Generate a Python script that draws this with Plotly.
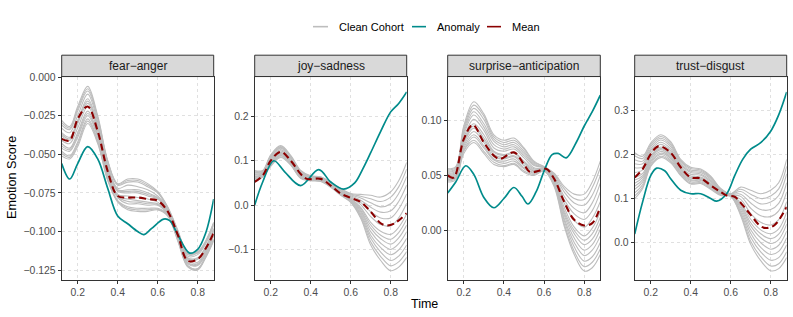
import plotly.graph_objects as go

# ---------------- data ----------------
panel_names = ["fear\u2212anger", "joy\u2212sadness", "surprise\u2212anticipation", "trust\u2212disgust"]

x_knots = [0.12, 0.16, 0.20, 0.25, 0.30, 0.35, 0.40, 0.45, 0.50, 0.55, 0.60, 0.65, 0.70, 0.75, 0.80, 0.84, 0.88]

cohort_fear_anger = [
    [-0.028, -0.032, -0.019, -0.006, -0.025, -0.054, -0.069, -0.066, -0.066, -0.069, -0.074, -0.084, -0.099, -0.114, -0.113, -0.106, -0.094],
    [-0.0295, -0.033, -0.0205, -0.0075, -0.026, -0.0545, -0.0695, -0.067, -0.067, -0.070, -0.0745, -0.0845, -0.0995, -0.1145, -0.1135, -0.1065, -0.0945],
    [-0.031, -0.034, -0.022, -0.009, -0.027, -0.055, -0.070, -0.068, -0.068, -0.071, -0.075, -0.085, -0.100, -0.115, -0.114, -0.107, -0.095],
    [-0.033, -0.036, -0.025, -0.011, -0.029, -0.057, -0.072, -0.070, -0.071, -0.073, -0.077, -0.085, -0.101, -0.116, -0.115, -0.108, -0.096],
    [-0.036, -0.039, -0.028, -0.014, -0.031, -0.058, -0.073, -0.073, -0.073, -0.075, -0.078, -0.086, -0.101, -0.117, -0.117, -0.110, -0.098],
    [-0.037, -0.040, -0.029, -0.0155, -0.032, -0.059, -0.0735, -0.074, -0.074, -0.076, -0.0785, -0.0865, -0.1015, -0.1175, -0.1175, -0.1105, -0.0985],
    [-0.038, -0.041, -0.030, -0.017, -0.033, -0.060, -0.074, -0.075, -0.075, -0.077, -0.079, -0.087, -0.102, -0.118, -0.118, -0.111, -0.099],
    [-0.041, -0.043, -0.033, -0.019, -0.035, -0.061, -0.076, -0.077, -0.078, -0.079, -0.081, -0.087, -0.103, -0.119, -0.120, -0.112, -0.100],
    [-0.043, -0.046, -0.036, -0.022, -0.037, -0.063, -0.077, -0.079, -0.080, -0.081, -0.082, -0.088, -0.104, -0.120, -0.121, -0.113, -0.102],
    [-0.0445, -0.047, -0.0375, -0.0235, -0.038, -0.0635, -0.0775, -0.0805, -0.081, -0.082, -0.0825, -0.0885, -0.104, -0.1205, -0.1215, -0.114, -0.1025],
    [-0.046, -0.048, -0.039, -0.025, -0.039, -0.064, -0.078, -0.082, -0.082, -0.083, -0.083, -0.089, -0.104, -0.121, -0.122, -0.115, -0.103],
    [-0.048, -0.051, -0.042, -0.027, -0.041, -0.066, -0.080, -0.084, -0.085, -0.085, -0.085, -0.089, -0.105, -0.122, -0.124, -0.116, -0.105],
    [-0.0495, -0.052, -0.0435, -0.0285, -0.042, -0.0665, -0.0805, -0.085, -0.086, -0.086, -0.0855, -0.0895, -0.1055, -0.1225, -0.1245, -0.1165, -0.1055],
    [-0.051, -0.053, -0.045, -0.030, -0.043, -0.067, -0.081, -0.086, -0.087, -0.087, -0.086, -0.090, -0.106, -0.123, -0.125, -0.117, -0.106],
]
cohort_joy_sadness = [
    [0.078, 0.078, 0.113, 0.134, 0.112, 0.078, 0.066, 0.064, 0.052, 0.037, 0.026, 0.024, 0.022, 0.018, 0.030, 0.055, 0.096],
    [0.076, 0.077, 0.111, 0.132, 0.110, 0.077, 0.065, 0.063, 0.051, 0.036, 0.025, 0.020, 0.014, 0.008, 0.018, 0.041, 0.081],
    [0.074, 0.076, 0.109, 0.130, 0.109, 0.075, 0.064, 0.062, 0.050, 0.035, 0.023, 0.016, 0.005, -0.004, 0.003, 0.026, 0.064],
    [0.072, 0.074, 0.107, 0.128, 0.107, 0.074, 0.063, 0.061, 0.049, 0.033, 0.021, 0.011, -0.005, -0.016, -0.013, 0.008, 0.045],
    [0.069, 0.073, 0.104, 0.125, 0.105, 0.072, 0.062, 0.060, 0.048, 0.032, 0.019, 0.006, -0.015, -0.029, -0.029, -0.009, 0.025],
    [0.067, 0.072, 0.102, 0.122, 0.103, 0.070, 0.061, 0.059, 0.047, 0.031, 0.017, 0.001, -0.026, -0.044, -0.047, -0.029, 0.004],
    [0.064, 0.070, 0.099, 0.119, 0.100, 0.068, 0.060, 0.058, 0.046, 0.029, 0.015, -0.005, -0.039, -0.059, -0.066, -0.050, -0.020],
    [0.062, 0.069, 0.097, 0.118, 0.099, 0.067, 0.059, 0.057, 0.045, 0.028, 0.014, -0.008, -0.045, -0.068, -0.077, -0.062, -0.032],
    [0.061, 0.068, 0.096, 0.116, 0.098, 0.066, 0.059, 0.057, 0.044, 0.027, 0.013, -0.012, -0.052, -0.076, -0.088, -0.074, -0.045],
    [0.059, 0.067, 0.094, 0.114, 0.096, 0.065, 0.058, 0.056, 0.043, 0.026, 0.011, -0.015, -0.060, -0.086, -0.100, -0.087, -0.060],
    [0.057, 0.066, 0.092, 0.112, 0.094, 0.064, 0.057, 0.055, 0.042, 0.025, 0.010, -0.019, -0.068, -0.096, -0.112, -0.101, -0.075],
    [0.055, 0.065, 0.090, 0.111, 0.093, 0.062, 0.056, 0.054, 0.042, 0.024, 0.009, -0.023, -0.075, -0.106, -0.125, -0.115, -0.090],
    [0.054, 0.064, 0.089, 0.109, 0.091, 0.061, 0.056, 0.054, 0.041, 0.023, 0.007, -0.027, -0.083, -0.116, -0.137, -0.128, -0.105],
    [0.052, 0.063, 0.087, 0.107, 0.090, 0.060, 0.055, 0.053, 0.040, 0.022, 0.006, -0.030, -0.090, -0.125, -0.148, -0.140, -0.118],
]
cohort_surprise_anticipation = [
    [0.056, 0.058, 0.095, 0.117, 0.106, 0.087, 0.082, 0.084, 0.075, 0.063, 0.058, 0.052, 0.040, 0.033, 0.033, 0.044, 0.063],
    [0.055, 0.057, 0.093, 0.114, 0.104, 0.085, 0.080, 0.082, 0.074, 0.062, 0.058, 0.051, 0.038, 0.029, 0.028, 0.039, 0.057],
    [0.054, 0.056, 0.091, 0.111, 0.101, 0.083, 0.078, 0.080, 0.072, 0.061, 0.057, 0.050, 0.035, 0.025, 0.023, 0.032, 0.050],
    [0.053, 0.055, 0.089, 0.108, 0.097, 0.081, 0.076, 0.078, 0.070, 0.060, 0.057, 0.049, 0.031, 0.020, 0.016, 0.025, 0.043],
    [0.052, 0.054, 0.087, 0.105, 0.094, 0.078, 0.074, 0.076, 0.068, 0.059, 0.057, 0.048, 0.028, 0.015, 0.010, 0.018, 0.035],
    [0.051, 0.053, 0.084, 0.101, 0.091, 0.075, 0.072, 0.074, 0.066, 0.057, 0.056, 0.047, 0.025, 0.009, 0.003, 0.011, 0.026],
    [0.050, 0.052, 0.082, 0.097, 0.087, 0.072, 0.069, 0.071, 0.063, 0.056, 0.056, 0.046, 0.021, 0.003, -0.005, 0.002, 0.017],
    [0.049, 0.051, 0.080, 0.095, 0.084, 0.071, 0.068, 0.070, 0.062, 0.055, 0.056, 0.045, 0.018, 0.000, -0.009, -0.003, 0.012],
    [0.048, 0.050, 0.079, 0.093, 0.082, 0.069, 0.066, 0.068, 0.061, 0.054, 0.055, 0.044, 0.016, -0.003, -0.013, -0.008, 0.007],
    [0.047, 0.049, 0.077, 0.090, 0.080, 0.067, 0.065, 0.067, 0.059, 0.054, 0.055, 0.043, 0.014, -0.007, -0.018, -0.013, 0.001],
    [0.046, 0.048, 0.075, 0.087, 0.077, 0.065, 0.063, 0.065, 0.057, 0.053, 0.055, 0.042, 0.011, -0.011, -0.023, -0.018, -0.005],
    [0.046, 0.048, 0.073, 0.085, 0.075, 0.064, 0.061, 0.063, 0.056, 0.052, 0.054, 0.042, 0.009, -0.015, -0.028, -0.024, -0.011],
    [0.045, 0.047, 0.072, 0.082, 0.072, 0.062, 0.059, 0.061, 0.054, 0.051, 0.054, 0.041, 0.006, -0.019, -0.033, -0.029, -0.017],
    [0.044, 0.046, 0.070, 0.080, 0.070, 0.060, 0.058, 0.060, 0.053, 0.050, 0.054, 0.040, 0.004, -0.022, -0.037, -0.034, -0.022],
]
cohort_trust_disgust = [
    [0.203, 0.195, 0.225, 0.244, 0.228, 0.188, 0.170, 0.166, 0.150, 0.122, 0.110, 0.125, 0.118, 0.110, 0.118, 0.135, 0.188],
    [0.196, 0.190, 0.221, 0.240, 0.225, 0.185, 0.167, 0.164, 0.148, 0.121, 0.110, 0.120, 0.109, 0.099, 0.105, 0.121, 0.172],
    [0.187, 0.184, 0.217, 0.236, 0.221, 0.182, 0.164, 0.161, 0.146, 0.120, 0.109, 0.115, 0.100, 0.087, 0.091, 0.106, 0.155],
    [0.178, 0.178, 0.212, 0.232, 0.217, 0.179, 0.161, 0.158, 0.143, 0.118, 0.109, 0.109, 0.089, 0.074, 0.074, 0.088, 0.135],
    [0.169, 0.171, 0.208, 0.227, 0.212, 0.176, 0.158, 0.155, 0.140, 0.117, 0.108, 0.104, 0.077, 0.060, 0.058, 0.071, 0.114],
    [0.158, 0.164, 0.202, 0.222, 0.207, 0.172, 0.154, 0.152, 0.137, 0.115, 0.107, 0.097, 0.065, 0.045, 0.039, 0.051, 0.092],
    [0.147, 0.156, 0.196, 0.216, 0.202, 0.168, 0.150, 0.148, 0.134, 0.113, 0.107, 0.090, 0.052, 0.028, 0.019, 0.030, 0.068],
    [0.141, 0.151, 0.193, 0.213, 0.199, 0.166, 0.147, 0.146, 0.132, 0.112, 0.106, 0.086, 0.044, 0.019, 0.008, 0.018, 0.054],
    [0.134, 0.147, 0.190, 0.210, 0.196, 0.164, 0.145, 0.144, 0.130, 0.111, 0.106, 0.082, 0.037, 0.010, -0.003, 0.006, 0.041],
    [0.127, 0.142, 0.186, 0.206, 0.193, 0.161, 0.142, 0.142, 0.128, 0.110, 0.106, 0.078, 0.028, -0.001, -0.016, -0.007, 0.025],
    [0.120, 0.137, 0.183, 0.202, 0.190, 0.158, 0.140, 0.140, 0.126, 0.109, 0.105, 0.073, 0.020, -0.012, -0.028, -0.021, 0.010],
    [0.112, 0.131, 0.179, 0.199, 0.186, 0.156, 0.137, 0.137, 0.124, 0.108, 0.105, 0.068, 0.011, -0.022, -0.041, -0.035, -0.006],
    [0.105, 0.126, 0.175, 0.195, 0.183, 0.153, 0.134, 0.135, 0.122, 0.107, 0.104, 0.064, 0.002, -0.033, -0.054, -0.049, -0.022],
    [0.099, 0.122, 0.172, 0.192, 0.180, 0.151, 0.132, 0.133, 0.120, 0.106, 0.104, 0.060, -0.005, -0.042, -0.065, -0.060, -0.035],
]

mean_x_fear_anger = x_knots
mean_fear_anger = [-0.040, -0.041, -0.027, -0.019, -0.035, -0.061, -0.077, -0.078, -0.078, -0.079, -0.080, -0.087, -0.102, -0.119, -0.118, -0.111, -0.101]
mean_x_joy_sadness = [0.12, 0.16, 0.20, 0.25, 0.30, 0.35, 0.38, 0.45, 0.50, 0.55, 0.60, 0.65, 0.70, 0.75, 0.78, 0.82, 0.88]
mean_joy_sadness = [0.052, 0.0665, 0.100, 0.120, 0.100, 0.070, 0.059, 0.059, 0.044, 0.026, 0.016, 0.007, -0.015, -0.041, -0.046, -0.041, -0.0185]
mean_x_surprise_anticipation = [0.12, 0.15, 0.20, 0.245, 0.30, 0.35, 0.38, 0.45, 0.50, 0.53, 0.57, 0.61, 0.65, 0.70, 0.75, 0.80, 0.84, 0.88]
mean_surprise_anticipation = [0.050, 0.048, 0.083, 0.096, 0.080, 0.068, 0.065, 0.071, 0.060, 0.053, 0.054, 0.056, 0.047, 0.026, 0.0096, 0.0045, 0.0066, 0.0215]
mean_x_trust_disgust = [0.12, 0.16, 0.20, 0.24, 0.30, 0.35, 0.40, 0.45, 0.50, 0.55, 0.58, 0.62, 0.66, 0.70, 0.75, 0.78, 0.82, 0.88]
mean_trust_disgust = [0.147, 0.166, 0.200, 0.218, 0.203, 0.170, 0.147, 0.145, 0.129, 0.114, 0.106, 0.103, 0.084, 0.062, 0.036, 0.032, 0.039, 0.080]

anom_x_fear_anger = [0.12, 0.16, 0.20, 0.25, 0.30, 0.35, 0.40, 0.45, 0.50, 0.53, 0.57, 0.63, 0.66, 0.70, 0.76, 0.80, 0.84, 0.88]
anom_fear_anger = [-0.056, -0.066, -0.056, -0.045, -0.053, -0.072, -0.090, -0.095, -0.100, -0.102, -0.098, -0.092, -0.093, -0.102, -0.114, -0.1116, -0.101, -0.079]
anom_x_joy_sadness = [0.12, 0.16, 0.215, 0.27, 0.35, 0.44, 0.50, 0.565, 0.62, 0.66, 0.70, 0.75, 0.80, 0.84, 0.88]
anom_joy_sadness = [0.0, 0.052, 0.0998, 0.075, 0.044, 0.080, 0.052, 0.036, 0.050, 0.081, 0.118, 0.166, 0.21, 0.229, 0.255]
anom_x_surprise_anticipation = [0.12, 0.16, 0.21, 0.25, 0.30, 0.35, 0.40, 0.45, 0.49, 0.52, 0.56, 0.60, 0.64, 0.67, 0.71, 0.76, 0.80, 0.84, 0.88]
anom_surprise_anticipation = [0.034, 0.044, 0.0588, 0.051, 0.030, 0.0206, 0.029, 0.039, 0.031, 0.024, 0.035, 0.054, 0.069, 0.070, 0.066, 0.080, 0.095, 0.108, 0.123]
anom_x_trust_disgust = [0.12, 0.16, 0.20, 0.23, 0.27, 0.30, 0.35, 0.40, 0.45, 0.50, 0.53, 0.58, 0.62, 0.66, 0.70, 0.75, 0.80, 0.84, 0.88]
anom_trust_disgust = [0.0186, 0.092, 0.151, 0.168, 0.162, 0.144, 0.118, 0.110, 0.110, 0.099, 0.093, 0.110, 0.151, 0.188, 0.211, 0.226, 0.252, 0.289, 0.341]

x_tick_vals = [0.2, 0.4, 0.6, 0.8]
x_tick_text = ["0.2", "0.4", "0.6", "0.8"]
y_tick_vals = [
    [0.0, -0.025, -0.05, -0.075, -0.1, -0.125],
    [0.2, 0.1, 0.0, -0.1],
    [0.10, 0.05, 0.00],
    [0.3, 0.2, 0.1, 0.0],
]
y_tick_text = [
    ["0.000", "\u22120.025", "\u22120.050", "\u22120.075", "\u22120.100", "\u22120.125"],
    ["0.2", "0.1", "0.0", "\u22120.1"],
    ["0.10", "0.05", "0.00"],
    ["0.3", "0.2", "0.1", "0.0"],
]
y_ranges = [[-0.1312, 0.0004], [-0.168, 0.2896], [-0.0448, 0.140], [-0.085, 0.376]]
x_range = [0.12, 0.88]

cohorts = [cohort_fear_anger, cohort_joy_sadness, cohort_surprise_anticipation, cohort_trust_disgust]
means = [(mean_x_fear_anger, mean_fear_anger), (mean_x_joy_sadness, mean_joy_sadness),
         (mean_x_surprise_anticipation, mean_surprise_anticipation), (mean_x_trust_disgust, mean_trust_disgust)]
anoms = [(anom_x_fear_anger, anom_fear_anger), (anom_x_joy_sadness, anom_joy_sadness),
         (anom_x_surprise_anticipation, anom_surprise_anticipation), (anom_x_trust_disgust, anom_trust_disgust)]

# ---------------- styling / layout ----------------
W, H = 793, 317
COL_COHORT = "#BDBDBD"
COL_ANOM = "#008B8B"
COL_MEAN = "#8B0000"
FONT = "Liberation Sans, Arial, Helvetica, sans-serif"

panel_px = [(61.7, 213.7), (254.7, 406.7), (447.7, 600.3), (634.7, 786.7)]
plot_top_px, plot_bot_px = 72.7, 279.0
strip_top_px = 51.0

def px_x(p):
    return p / W

def px_y(p):
    return 1 - p / H

fig = go.Figure()
layout = dict(
    width=W, height=H, margin=dict(l=0, r=0, t=0, b=0),
    paper_bgcolor="white", plot_bgcolor="white",
    showlegend=False, font=dict(family=FONT),
)
shapes = []
annotations = []

for i in range(4):
    xa = "x" if i == 0 else f"x{i+1}"
    ya = "y" if i == 0 else f"y{i+1}"
    for line in cohorts[i]:
        fig.add_trace(go.Scatter(x=x_knots, y=line, mode="lines", xaxis=xa, yaxis=ya,
                                 line=dict(color=COL_COHORT, width=1.1, shape="spline", smoothing=1.0),
                                 name="Clean Cohort", hoverinfo="skip"))
    ax, ay = anoms[i]
    fig.add_trace(go.Scatter(x=ax, y=ay, mode="lines", xaxis=xa, yaxis=ya,
                             line=dict(color=COL_ANOM, width=1.7, shape="spline", smoothing=1.0),
                             name="Anomaly"))
    mx, my = means[i]
    fig.add_trace(go.Scatter(x=mx, y=my, mode="lines", xaxis=xa, yaxis=ya,
                             line=dict(color=COL_MEAN, width=2.1, dash="7px,4px", shape="spline", smoothing=1.0),
                             name="Mean"))

    x0, x1 = panel_px[i]
    dom_x = [px_x(x0), px_x(x1)]
    dom_y = [px_y(plot_bot_px), px_y(plot_top_px)]
    key_x = "xaxis" if i == 0 else f"xaxis{i+1}"
    key_y = "yaxis" if i == 0 else f"yaxis{i+1}"
    common = dict(ticks="outside", ticklen=3, tickwidth=1, tickcolor="#333333",
                  tickfont=dict(size=10.4, color="#4D4D4D", family=FONT),
                  showgrid=True, gridcolor="#E0E0E0", gridwidth=0.8, griddash="3px,3px",
                  showline=True, linecolor="#333333", linewidth=1, mirror=True,
                  zeroline=False, fixedrange=True)
    layout[key_x] = dict(domain=dom_x, range=x_range, anchor=ya,
                         tickvals=x_tick_vals, ticktext=x_tick_text, **common)
    layout[key_y] = dict(domain=dom_y, range=y_ranges[i], anchor=xa,
                         tickvals=y_tick_vals[i], ticktext=y_tick_text[i], **common)
    # strip
    shapes.append(dict(type="rect", xref="paper", yref="paper",
                       x0=dom_x[0], x1=dom_x[1], y0=px_y(plot_top_px), y1=px_y(strip_top_px),
                       fillcolor="#D9D9D9", line=dict(color="#333333", width=1), layer="above"))
    annotations.append(dict(text=panel_names[i], xref="paper", yref="paper",
                            x=(dom_x[0] + dom_x[1]) / 2, y=px_y((plot_top_px + strip_top_px) / 2),
                            xanchor="center", yanchor="middle", showarrow=False,
                            font=dict(size=12, color="#1A1A1A", family=FONT)))

# axis titles
annotations.append(dict(text="Time", xref="paper", yref="paper", x=px_x(424.5), y=px_y(304),
                        xanchor="center", yanchor="middle", showarrow=False,
                        font=dict(size=12.5, color="black", family=FONT)))
annotations.append(dict(text="Emotion Score", xref="paper", yref="paper", x=px_x(12), y=px_y(175.8),
                        xanchor="center", yanchor="middle", showarrow=False, textangle=-90,
                        font=dict(size=12.7, color="black", family=FONT)))

# legend (drawn manually to match layout)
legend_items = [("Clean Cohort", COL_COHORT, 313, 328, 337),
                ("Anomaly", COL_ANOM, 412, 426, 435),
                ("Mean", COL_MEAN, 487, 501, 510)]
ly = 22.0
for label, col, lx0, lx1, tx in legend_items:
    shapes.append(dict(type="line", xref="paper", yref="paper",
                       x0=px_x(lx0), x1=px_x(lx1), y0=px_y(ly), y1=px_y(ly),
                       line=dict(color=col, width=1.6)))
    annotations.append(dict(text=label, xref="paper", yref="paper", x=px_x(tx), y=px_y(ly),
                            xanchor="left", yanchor="middle", showarrow=False,
                            font=dict(size=11, color="black", family=FONT)))

layout["shapes"] = shapes
layout["annotations"] = annotations
fig.update_layout(**layout)
fig.write_html("out.html", config={"displayModeBar": False},
               post_script="document.body.style.margin='0';document.body.style.overflow='hidden';")
